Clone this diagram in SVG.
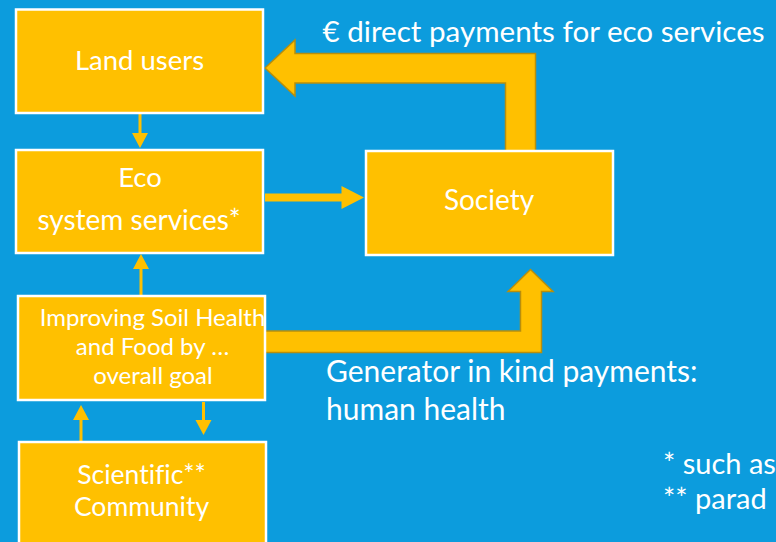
<svg xmlns="http://www.w3.org/2000/svg" width="776" height="542" viewBox="0 0 776 542">
<style>
.box{fill:#FFC000;stroke:#FFFFFF;stroke-width:2.5}
.t{fill:#FFFFFF;font-family:Lato,"Open Sans",sans-serif;font-variant-ligatures:none}
.c{text-anchor:middle}
.big{fill:#FFC000;stroke:#B88E0C;stroke-width:1.5;stroke-linejoin:miter}
.ln{stroke:#FFC000;fill:none}
.hd{fill:#FFC000}
</style>
<rect x="0" y="0" width="776" height="542" fill="#0C9CDD"/>
<g id="connectors">
<polygon class="big" points="265,68 295,40 295,53.5 535.5,53.5 535.5,151 505.5,151 505.5,83 295,83 295,96"/>
<polygon class="big" points="264,331 520.5,331 520.5,291.5 508,291.5 530.5,269.5 553,291.5 541.5,291.5 541.5,352.5 264,352.5"/>
<line class="ln" x1="140" y1="113" x2="140" y2="134" stroke-width="3"/>
<polygon class="hd" points="132,133 148,133 140,148"/>
<line class="ln" x1="265" y1="197.5" x2="342" y2="197.5" stroke-width="8"/>
<polygon class="hd" points="341.5,186 341.5,209 364,197.5"/>
<line class="ln" x1="141" y1="296" x2="141" y2="268" stroke-width="3"/>
<polygon class="hd" points="133,269 149,269 141,254"/>
<line class="ln" x1="81" y1="441" x2="81" y2="419" stroke-width="3"/>
<polygon class="hd" points="73,420 89,420 81,405"/>
<line class="ln" x1="203.5" y1="402" x2="203.5" y2="421" stroke-width="3"/>
<polygon class="hd" points="195.5,420 211.5,420 203.5,435"/>
</g>
<g id="land-users">
<rect class="box" x="16" y="9.5" width="247" height="103.5"/>
<text class="t c" x="139.5" y="70" font-size="27.5">Land users</text>
</g>
<g id="eco-services">
<rect class="box" x="16" y="150" width="247" height="103"/>
<text class="t c" x="140" y="187" font-size="27.5">Eco</text>
<text class="t c" x="139" y="230" font-size="28">system services*</text>
</g>
<g id="society">
<rect class="box" x="366" y="151" width="247" height="104"/>
<text class="t c" x="489" y="210" font-size="28">Society</text>
</g>
<g id="improving">
<rect class="box" x="18" y="296" width="247" height="104"/>
<text class="t c" x="152.5" y="326" font-size="24">Improving Soil Health</text>
<text class="t c" x="152.5" y="355" font-size="24">and Food by …</text>
<text class="t c" x="153" y="384" font-size="24">overall goal</text>
</g>
<g id="scientific">
<rect class="box" x="19" y="442" width="247" height="104"/>
<text class="t c" x="141.5" y="484" font-size="26.5">Scientific**</text>
<text class="t c" x="141.5" y="516" font-size="26.5">Community</text>
</g>
<g id="labels">
<text class="t" x="322.5" y="42" font-size="29.6">€ direct payments for eco services</text>
<text class="t" x="326" y="382" font-size="30">Generator in kind payments:</text>
<text class="t" x="326" y="420" font-size="30">human health</text>
<text class="t" x="663" y="474" font-size="29">* such as</text>
<text class="t" x="663" y="509" font-size="29">** parad</text>
</g>
</svg>
